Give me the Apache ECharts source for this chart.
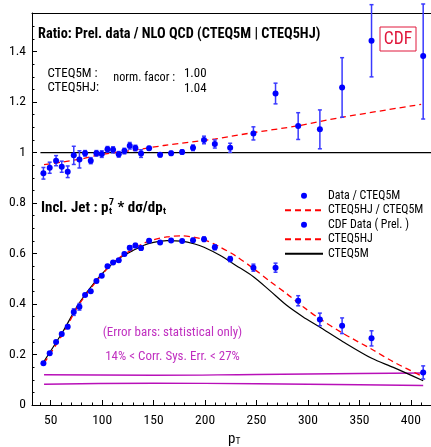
<!DOCTYPE html>
<html><head><meta charset="utf-8">
<script src="https://cdn.jsdelivr.net/npm/echarts@6/dist/echarts.min.js"></script>
<style>html,body{margin:0;padding:0;background:#fff}#c{width:431px;height:447px}</style>
</head><body><div id="c"></div>
<script>
const FONT = "'Roboto Condensed','Open Sans',sans-serif";

// ---- data ----
const pT = [42.9, 49.0, 55.2, 60.7, 66.5, 72.4, 77.9, 83.4, 88.9, 94.4, 99.6, 105.2, 110.6, 116.1, 121.6, 126.8, 132.3, 137.8, 145.6, 156.3, 167.0, 177.7, 188.3, 199.0, 209.5, 224.4, 247.0, 268.5, 290.5, 311.6, 333.2, 361.8, 412.0];
const ratioData = [0.918, 0.940, 0.968, 0.944, 0.924, 0.989, 0.973, 0.997, 0.968, 0.997, 0.994, 1.013, 1.011, 0.993, 1.006, 1.027, 1.018, 0.996, 1.017, 0.991, 0.997, 1.002, 1.019, 1.050, 1.034, 1.019, 1.076, 1.234, 1.105, 1.092, 1.258, 1.443, 1.383];
const ratioErr = [0.023, 0.022, 0.020, 0.022, 0.023, 0.036, 0.034, 0.011, 0.012, 0.011, 0.013, 0.011, 0.012, 0.011, 0.011, 0.013, 0.011, 0.015, 0.007, 0.008, 0.008, 0.008, 0.011, 0.015, 0.016, 0.018, 0.026, 0.041, 0.053, 0.077, 0.118, 0.143, 0.250];
const cdfData = [0.165, 0.205, 0.250, 0.281, 0.310, 0.368, 0.389, 0.436, 0.451, 0.491, 0.512, 0.550, 0.565, 0.573, 0.598, 0.623, 0.632, 0.622, 0.651, 0.644, 0.652, 0.650, 0.653, 0.657, 0.625, 0.578, 0.544, 0.544, 0.413, 0.339, 0.314, 0.264, 0.129];
const cdfErr = [0.004, 0.005, 0.005, 0.006, 0.007, 0.013, 0.013, 0.005, 0.005, 0.006, 0.006, 0.006, 0.006, 0.006, 0.006, 0.008, 0.008, 0.009, 0.005, 0.005, 0.005, 0.005, 0.007, 0.009, 0.010, 0.010, 0.014, 0.018, 0.020, 0.025, 0.031, 0.030, 0.026];

const curvePt = [43.5, 62, 77, 94.4, 110, 120, 130, 140, 150, 163, 177, 190, 199, 214, 230, 247, 263, 279, 295, 311, 334, 362, 383, 412];
const cteq5m  = [0.173, 0.292, 0.400, 0.495, 0.560, 0.590, 0.612, 0.632, 0.644, 0.651, 0.649, 0.638, 0.625, 0.594, 0.553, 0.508, 0.453, 0.396, 0.350, 0.310, 0.251, 0.185, 0.149, 0.096];
const cteq5hj = [0.165, 0.283, 0.395, 0.490, 0.562, 0.593, 0.618, 0.640, 0.655, 0.666, 0.670, 0.664, 0.655, 0.627, 0.590, 0.541, 0.490, 0.442, 0.390, 0.343, 0.284, 0.221, 0.171, 0.112];

const ratioCurvePt = [43.5, 60, 80, 100, 130, 160, 210, 242, 290, 332, 410];
const ratioCurve   = [0.952, 0.962, 0.975, 0.993, 1.009, 1.028, 1.054, 1.076, 1.106, 1.139, 1.191];

const unityPt = [40, 420];
const unityVal = [1, 1];

const sysPt = [43.5, 150, 250, 350, 412];
const sysUpper = [0.120, 0.118, 0.121, 0.125, 0.127];
const sysLower = [0.082, 0.086, 0.084, 0.080, 0.077];

const xMajor = [50, 100, 150, 200, 250, 300, 350, 400];
const xMinor = [40, 60, 70, 80, 90, 110, 120, 130, 140, 160, 170, 180, 190, 210, 220, 230, 240, 260, 270, 280, 290, 310, 320, 330, 340, 360, 370, 380, 390, 410];
const yMajor = [0, 0.2, 0.4, 0.6, 0.8, 1, 1.2, 1.4];
const yMinor = [0.05, 0.1, 0.15, 0.25, 0.3, 0.35, 0.45, 0.5, 0.55, 0.65, 0.7, 0.75, 0.85, 0.9, 0.95, 1.05, 1.1, 1.15, 1.25, 1.3, 1.35, 1.45, 1.5];

const X_MIN = 31.8, X_MAX = 419.6, Y_MIN = 0, Y_MAX = 1.553;

const zip = (xs, ys) => xs.map((x, i) => [x, ys[i]]);
const zip3 = (xs, ys, es) => xs.map((x, i) => [x, ys[i], es[i]]);

function errRender(params, api) {
  const x = api.value(0), y = api.value(1), e = api.value(2);
  const t = api.coord([x, y + e]);
  const b = api.coord([x, y - e]);
  const ty = Math.max(t[1], 4);
  const cap = 2;
  const st = { stroke: '#3a3aff', lineWidth: 1.5 };
  return { type: 'group', children: [
    { type: 'line', shape: { x1: t[0], y1: ty, x2: b[0], y2: b[1] }, style: st },
    { type: 'line', shape: { x1: t[0] - cap, y1: ty, x2: t[0] + cap, y2: ty }, style: st },
    { type: 'line', shape: { x1: b[0] - cap, y1: b[1], x2: b[0] + cap, y2: b[1] }, style: st }
  ]};
}

// ---- text measuring (layout only) ----
const mctx = document.createElement('canvas').getContext('2d');
function textW(str, font) { mctx.font = font; return mctx.measureText(str).width; }
function F(size, bold) { return (bold ? 'bold ' : '') + size + 'px ' + FONT; }
// font size such that `str` is about `target` px wide (k: extra height compromise)
function fit(str, bold, target, k) {
  const w = textW(str, F(20, bold));
  return Math.round(20 * target / w * (k || 1) * 10) / 10;
}

const S_TITLE = fit('Ratio: Prel. data / NLO QCD (CTEQ5M | CTEQ5HJ)', true, 283);
const S_SMALL = fit('CTEQ5M :', false, 47.3, 1.06);
const S_NORM  = fit('norm. facor :', false, 58.3, 1.06);
const S_CDF   = fit('CDF', false, 27, 1.05);
const S_MAG   = fit('(Error bars: statistical only)', false, 133, 1.05);
const S_LEG   = fit('Data / CTEQ5M', false, 70, 1.03);

// "Incl. Jet : p_t^7 * dσ/dp_t" assembled from pieces, total width ~122 px
const INCL_X = 41, INCL_Y = 208;
const inclA = 'Incl. Jet : p', inclB = ' * dσ/dp';
function inclWidth(s) {
  const si = s * 0.66;
  return textW(inclA, F(s, true)) + 2 * Math.max(textW('t', F(si, true)), textW('7', F(si, true))) + textW(inclB, F(s, true)) + 1;
}
const S_INCL = Math.round(20 * 122 / inclWidth(20) * 1.04 * 10) / 10;
const S_IDX = Math.round(S_INCL * 0.66 * 10) / 10;
const xIdx1 = INCL_X + textW(inclA, F(S_INCL, true)) + 0.5;
const wIdx1 = Math.max(textW('t', F(S_IDX, true)), textW('7', F(S_IDX, true)));
const xB = xIdx1 + wIdx1;
const xIdx2 = xB + textW(inclB, F(S_INCL, true)) + 0.5;

const gridRect = { left: 32, right: 0, top: 13, bottom: 42, outerBoundsMode: 'none' };
const axisBlack = { show: true, lineStyle: { color: '#000', width: 1 } };
const noSym = { color: 'rgba(0,0,0,0)', borderColor: 'rgba(0,0,0,0)', borderWidth: 0 };

function txt(x, y, text, font, fill, align) {
  return { type: 'text', z: 10, style: { x: x, y: y, text: text, font: font, fill: fill || '#000',
    align: align || 'left', verticalAlign: 'middle' } };
}

const chart = echarts.init(document.getElementById('c'), null, { renderer: 'canvas' });
chart.setOption({
  animation: false,
  backgroundColor: '#fff',
  grid: [Object.assign({}, gridRect), Object.assign({}, gridRect)],
  xAxis: [
    { type: 'value', gridIndex: 0, position: 'bottom', min: X_MIN, max: X_MAX,
      axisLine: axisBlack, splitLine: { show: false },
      axisTick: { show: true, inside: true, length: 5, customValues: xMajor, lineStyle: { color: '#000' } },
      axisLabel: { show: true, customValues: xMajor, margin: 9, color: '#000', fontFamily: FONT, fontSize: 13.5 } },
    { type: 'value', gridIndex: 0, position: 'top', min: X_MIN, max: X_MAX,
      axisLine: axisBlack, splitLine: { show: false }, axisTick: { show: false }, axisLabel: { show: false } },
    { type: 'value', gridIndex: 1, position: 'bottom', min: X_MIN, max: X_MAX,
      axisLine: { show: false }, splitLine: { show: false },
      axisTick: { show: true, inside: true, length: 2.5, customValues: xMinor, lineStyle: { color: '#000' } },
      axisLabel: { show: false } }
  ],
  yAxis: [
    { type: 'value', gridIndex: 0, position: 'left', min: Y_MIN, max: Y_MAX,
      axisLine: axisBlack, splitLine: { show: false },
      axisTick: { show: true, inside: true, length: 5, customValues: yMajor, lineStyle: { color: '#000' } },
      axisLabel: { show: true, customValues: yMajor, margin: 6, color: '#000', fontFamily: FONT, fontSize: 13.5 } },
    { type: 'value', gridIndex: 1, position: 'left', min: Y_MIN, max: Y_MAX,
      axisLine: { show: false }, splitLine: { show: false },
      axisTick: { show: true, inside: true, length: 2.5, customValues: yMinor, lineStyle: { color: '#000' } },
      axisLabel: { show: false } }
  ],
  legend: {
    orient: 'vertical', left: 284, top: 189.5, padding: 0,
    itemWidth: 38, itemHeight: 6, itemGap: 2, selectedMode: false,
    textStyle: { fontFamily: FONT, fontSize: S_LEG, color: '#000', lineHeight: 12.5 },
    data: [
      { name: 'Data / CTEQ5M' },
      { name: 'CTEQ5HJ / CTEQ5M', itemStyle: noSym },
      { name: 'CDF Data ( Prel. )' },
      { name: 'CTEQ5HJ', itemStyle: noSym },
      { name: 'CTEQ5M', itemStyle: noSym }
    ]
  },
  series: [
    { name: 'unity', type: 'line', data: zip(unityPt, unityVal), symbol: 'none',
      lineStyle: { color: '#000', width: 1.2 }, z: 1, silent: true },
    { name: 'sysUpper', type: 'line', data: zip(sysPt, sysUpper), symbol: 'none', smooth: true,
      lineStyle: { color: '#b810b8', width: 1.4 }, z: 1 },
    { name: 'sysLower', type: 'line', data: zip(sysPt, sysLower), symbol: 'none', smooth: true,
      lineStyle: { color: '#b810b8', width: 1.4 }, z: 1 },
    { name: 'CTEQ5M', type: 'line', data: zip(curvePt, cteq5m), symbol: 'none', smooth: 0.3,
      lineStyle: { color: '#000', width: 1.2 }, itemStyle: { color: '#000' }, z: 2 },
    { name: 'CTEQ5HJ', type: 'line', data: zip(curvePt, cteq5hj), symbol: 'none', smooth: 0.3,
      lineStyle: { color: '#ff0000', width: 1.3, type: [6, 4] }, itemStyle: { color: '#ff0000' }, z: 2 },
    { name: 'CTEQ5HJ / CTEQ5M', type: 'line', data: zip(ratioCurvePt, ratioCurve), symbol: 'none', smooth: 0.3,
      lineStyle: { color: '#ff0000', width: 1.3, type: [6, 4] }, itemStyle: { color: '#ff0000' }, z: 2 },
    { name: 'ratioErr', type: 'custom', renderItem: errRender, data: zip3(pT, ratioData, ratioErr), clip: false, z: 3 },
    { name: 'cdfErr', type: 'custom', renderItem: errRender, data: zip3(pT, cdfData, cdfErr), clip: false, z: 3 },
    { name: 'Data / CTEQ5M', type: 'scatter', data: zip(pT, ratioData), symbol: 'circle', symbolSize: 6,
      itemStyle: { color: '#0000ff', opacity: 1 }, z: 4 },
    { name: 'CDF Data ( Prel. )', type: 'scatter', data: zip(pT, cdfData), symbol: 'circle', symbolSize: 6,
      itemStyle: { color: '#0000ff', opacity: 1 }, z: 4 }
  ],
  graphic: [
    txt(38, 34.5, 'Ratio: Prel. data / NLO QCD (CTEQ5M | CTEQ5HJ)', F(S_TITLE, true)),
    { type: 'rect', z: 10, shape: { x: 380, y: 27, width: 36, height: 24 },
      style: { fill: null, stroke: '#e0183c', lineWidth: 1 } },
    txt(398, 39.5, 'CDF', F(S_CDF), '#e0183c', 'center'),
    txt(47.5, 74, 'CTEQ5M :', F(S_SMALL)),
    txt(47.5, 88, 'CTEQ5HJ:', F(S_SMALL)),
    txt(113.3, 77.5, 'norm. facor :', F(S_NORM)),
    txt(184, 74, '1.00', F(S_SMALL)),
    txt(184, 89, '1.04', F(S_SMALL)),
    txt(INCL_X, INCL_Y, inclA, F(S_INCL, true)),
    txt(xIdx1, INCL_Y - 5, '7', F(S_IDX, true)),
    txt(xIdx1, INCL_Y + 3.5, 't', F(S_IDX, true)),
    txt(xB, INCL_Y, inclB, F(S_INCL, true)),
    txt(xIdx2, INCL_Y + 3.5, 't', F(S_IDX, true)),
    txt(172.5, 333, '(Error bars: statistical only)', F(S_MAG), '#c030c0', 'center'),
    txt(172.5, 357, '14% < Corr. Sys. Err. < 27%', F(S_MAG), '#c030c0', 'center'),
    { type: 'text', z: 10, style: { x: 228, y: 432, text: 'p{s|T}', font: F(15), fill: '#000',
      align: 'left', verticalAlign: 'top',
      rich: { s: { fontFamily: FONT, fontSize: 9.5, lineHeight: 10, verticalAlign: 'bottom', fill: '#000' } } } }
  ]
});
</script>
</body></html>
